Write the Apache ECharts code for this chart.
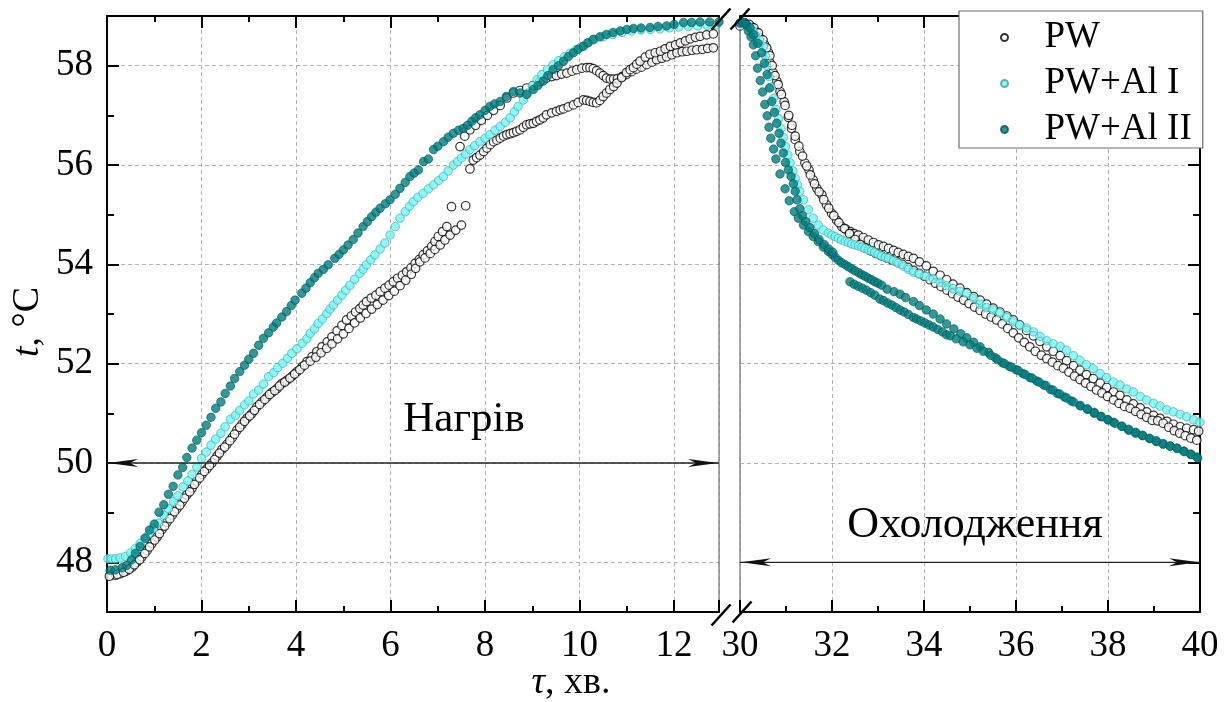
<!DOCTYPE html>
<html><head><meta charset="utf-8">
<script src="https://cdn.jsdelivr.net/npm/echarts@6/dist/echarts.min.js"></script>
<style>html,body{margin:0;padding:0;background:#fff}#c{width:1226px;height:702px}</style>
</head><body><div id="c"></div>
<script>
// ---------- tick labels ----------
const xHeatTicks = [0, 2, 4, 6, 8, 10, 12];
const xCoolTicks = [30, 32, 34, 36, 38, 40];
const yTicks = [48, 50, 52, 54, 56, 58];
const seriesNames = ['PW', 'PW+Al I', 'PW+Al II'];
const heatLabel = 'Нагрів';
const coolLabel = 'Охолодження';

// ---------- PW (two runs) : heating ----------
const pwHeatA = [[0.1,47.75],[0.18,47.74],[0.28,47.77],[0.4,47.82],[0.53,47.9],[0.63,48.0],[0.74,48.11],[0.85,48.24],[0.95,48.38],[1.06,48.51],[1.16,48.66],[1.27,48.81],[1.38,48.95],[1.48,49.08],[1.59,49.22],[1.69,49.36],[1.8,49.49],[1.9,49.64],[2.01,49.77],[2.12,49.89],[2.22,50.0],[2.33,50.14],[2.43,50.27],[2.54,50.38],[2.65,50.51],[2.75,50.66],[2.86,50.78],[2.96,50.9],[3.07,51.0],[3.17,51.13],[3.28,51.23],[3.39,51.33],[3.49,51.42],[3.6,51.5],[3.7,51.6],[3.81,51.67],[3.92,51.75],[4.02,51.84],[4.13,51.94],[4.23,52.04],[4.34,52.14],[4.44,52.24],[4.55,52.34],[4.66,52.44],[4.76,52.54],[4.87,52.66],[4.97,52.77],[5.07,52.88],[5.17,52.96],[5.26,53.04],[5.35,53.11],[5.42,53.18],[5.49,53.25],[5.59,53.32],[5.69,53.38],[5.78,53.45],[5.88,53.52],[5.97,53.58],[6.06,53.65],[6.15,53.72],[6.25,53.78],[6.34,53.85],[6.43,53.93],[6.52,54.02],[6.61,54.1],[6.69,54.19],[6.78,54.27],[6.87,54.36],[6.94,54.46],[7.01,54.56],[7.1,54.66],[7.19,54.76],[7.29,55.16],[7.47,56.37],[7.57,56.58],[7.68,56.71],[7.8,56.8],[7.92,56.9],[8.05,57.0],[8.18,57.1],[8.32,57.2],[8.46,57.35],[8.6,57.45],[8.74,57.5],[8.88,57.55],[9.02,57.6],[9.16,57.68],[9.3,57.75],[9.41,57.78],[9.51,57.8],[9.62,57.83],[9.73,57.85],[9.84,57.89],[9.94,57.92],[10.05,57.95],[10.15,57.96],[10.22,57.96],[10.29,57.94],[10.36,57.9],[10.43,57.85],[10.5,57.8],[10.57,57.75],[10.65,57.73],[10.72,57.73],[10.8,57.74],[10.9,57.78],[10.99,57.82],[11.1,57.88],[11.2,57.93],[11.31,57.97],[11.42,58.02],[11.53,58.07],[11.63,58.12],[11.74,58.15],[11.84,58.18],[11.95,58.22],[12.06,58.26],[12.17,58.28],[12.27,58.29],[12.38,58.31],[12.48,58.32],[12.6,58.33],[12.71,58.35],[12.83,58.36]];
const pwHeatB = [[0.05,47.72],[0.22,47.76],[0.35,47.8],[0.47,47.86],[0.58,47.95],[0.69,48.05],[0.8,48.18],[0.9,48.31],[1.01,48.45],[1.11,48.58],[1.22,48.73],[1.33,48.88],[1.43,49.02],[1.54,49.15],[1.64,49.29],[1.75,49.42],[1.85,49.57],[1.96,49.7],[2.06,49.83],[2.17,49.95],[2.28,50.07],[2.38,50.2],[2.49,50.32],[2.6,50.45],[2.7,50.58],[2.81,50.72],[2.91,50.84],[3.02,50.95],[3.12,51.06],[3.23,51.18],[3.34,51.28],[3.44,51.38],[3.55,51.46],[3.65,51.55],[3.76,51.63],[3.87,51.71],[3.97,51.79],[4.08,51.88],[4.18,51.97],[4.3,52.05],[4.42,52.13],[4.53,52.22],[4.65,52.31],[4.76,52.4],[4.88,52.5],[5.0,52.6],[5.12,52.71],[5.24,52.82],[5.36,52.92],[5.48,53.01],[5.6,53.1],[5.72,53.19],[5.84,53.28],[5.96,53.37],[6.08,53.46],[6.2,53.57],[6.32,53.68],[6.44,53.8],[6.53,53.92],[6.62,54.05],[6.73,54.13],[6.84,54.22],[6.94,54.3],[7.05,54.39],[7.15,54.49],[7.26,54.59],[7.38,54.69],[7.5,54.79],[7.59,55.18],[7.68,55.92],[7.75,56.1],[7.82,56.15],[7.89,56.2],[7.97,56.27],[8.04,56.34],[8.11,56.41],[8.18,56.47],[8.25,56.5],[8.32,56.54],[8.39,56.58],[8.46,56.61],[8.53,56.63],[8.6,56.65],[8.67,56.68],[8.74,56.71],[8.81,56.76],[8.88,56.81],[8.95,56.83],[9.02,56.84],[9.09,56.88],[9.16,56.91],[9.23,56.95],[9.3,57.01],[9.41,57.05],[9.51,57.08],[9.59,57.11],[9.66,57.13],[9.76,57.17],[9.87,57.21],[9.97,57.26],[10.08,57.31],[10.15,57.3],[10.22,57.28],[10.29,57.26],[10.36,57.25],[10.43,57.3],[10.5,57.38],[10.57,57.45],[10.64,57.52],[10.72,57.58],[10.79,57.65],[10.89,57.76],[10.99,57.86],[11.07,57.92],[11.14,57.96],[11.21,58.03],[11.28,58.09],[11.39,58.17],[11.49,58.23],[11.6,58.26],[11.71,58.29],[11.81,58.34],[11.92,58.39],[12.03,58.42],[12.13,58.46],[12.24,58.5],[12.34,58.54],[12.45,58.57],[12.55,58.59],[12.69,58.62],[12.83,58.64]];

// ---------- PW+Al I : heating ----------
const al1Heat = [[0.02,48.07],[0.1,48.07],[0.18,48.07],[0.28,48.09],[0.39,48.12],[0.5,48.19],[0.6,48.28],[0.7,48.38],[0.8,48.48],[0.89,48.58],[0.98,48.68],[1.09,48.79],[1.2,48.95],[1.3,49.08],[1.41,49.22],[1.5,49.34],[1.61,49.52],[1.71,49.64],[1.8,49.77],[1.9,49.92],[2.0,50.09],[2.1,50.22],[2.2,50.36],[2.3,50.48],[2.41,50.6],[2.5,50.73],[2.61,50.88],[2.72,50.96],[2.81,51.06],[2.91,51.17],[3.0,51.25],[3.1,51.39],[3.21,51.47],[3.31,51.59],[3.42,51.74],[3.53,51.82],[3.61,51.92],[3.72,52.01],[3.82,52.11],[3.91,52.21],[4.02,52.3],[4.13,52.41],[4.23,52.5],[4.3,52.61],[4.39,52.7],[4.47,52.81],[4.56,52.9],[4.65,53.01],[4.72,53.1],[4.79,53.18],[4.88,53.28],[4.97,53.38],[5.05,53.48],[5.14,53.58],[5.24,53.7],[5.35,53.82],[5.42,53.9],[5.49,53.99],[5.58,54.09],[5.67,54.19],[5.78,54.31],[5.88,54.43],[5.99,54.59],[6.1,54.76],[6.2,54.93],[6.31,55.06],[6.4,55.17],[6.48,55.26],[6.58,55.35],[6.69,55.43],[6.8,55.52],[6.91,55.6],[7.02,55.69],[7.12,55.77],[7.22,55.88],[7.33,56.0],[7.42,56.07],[7.5,56.14],[7.59,56.22],[7.68,56.31],[7.78,56.39],[7.89,56.47],[8.0,56.54],[8.1,56.61],[8.21,56.7],[8.32,56.78],[8.43,56.86],[8.53,56.95],[8.62,57.07],[8.7,57.18],[8.81,57.31],[8.9,57.45],[9.0,57.6],[9.1,57.72],[9.2,57.82],[9.32,57.92],[9.44,58.02],[9.56,58.1],[9.68,58.18],[9.8,58.25],[9.92,58.32],[10.03,58.38],[10.15,58.45],[10.3,58.52],[10.5,58.58],[10.7,58.63],[10.9,58.67],[11.1,58.7],[11.3,58.72],[11.5,58.73],[11.7,58.74],[11.9,58.76],[12.1,58.78],[12.3,58.79],[12.5,58.8],[12.7,58.81],[12.9,58.82]];

// ---------- PW+Al II : heating ----------
const al2Heat = [[0.07,47.84],[0.18,47.85],[0.32,47.89],[0.42,47.94],[0.52,48.05],[0.6,48.18],[0.7,48.32],[0.81,48.49],[0.9,48.65],[1.0,48.77],[1.1,49.01],[1.2,49.16],[1.3,49.37],[1.4,49.53],[1.5,49.76],[1.6,49.91],[1.69,50.11],[1.8,50.3],[1.9,50.46],[2.0,50.61],[2.1,50.76],[2.2,50.92],[2.3,51.1],[2.41,51.23],[2.5,51.4],[2.61,51.55],[2.7,51.7],[2.81,51.84],[2.91,51.97],[3.0,52.09],[3.1,52.21],[3.21,52.37],[3.31,52.51],[3.42,52.62],[3.52,52.74],[3.59,52.82],[3.7,52.94],[3.8,53.05],[3.9,53.17],[3.98,53.28],[4.12,53.42],[4.21,53.52],[4.3,53.63],[4.39,53.73],[4.47,53.82],[4.58,53.9],[4.68,53.99],[4.82,54.12],[4.91,54.2],[5.0,54.29],[5.1,54.39],[5.21,54.5],[5.31,54.63],[5.42,54.76],[5.51,54.86],[5.6,54.96],[5.69,55.05],[5.78,55.13],[5.89,55.22],[5.99,55.3],[6.1,55.41],[6.2,55.53],[6.31,55.65],[6.41,55.77],[6.5,55.84],[6.59,55.9],[6.7,56.07],[6.8,56.12],[6.91,56.31],[7.0,56.38],[7.12,56.47],[7.22,56.56],[7.33,56.64],[7.44,56.7],[7.54,56.74],[7.63,56.8],[7.72,56.88],[7.8,56.95],[7.89,57.01],[8.0,57.1],[8.1,57.18],[8.2,57.23],[8.32,57.28],[8.45,57.38],[8.6,57.48],[8.74,57.45],[8.88,57.42],[9.02,57.52],[9.12,57.6],[9.23,57.69],[9.33,57.8],[9.44,57.92],[9.55,58.0],[9.66,58.09],[9.76,58.18],[9.87,58.26],[9.97,58.33],[10.08,58.39],[10.18,58.46],[10.29,58.53],[10.43,58.58],[10.57,58.63],[10.71,58.67],[10.86,58.7],[11.0,58.73],[11.14,58.75],[11.3,58.76],[11.49,58.77],[11.66,58.79],[11.84,58.8],[12.0,58.83],[12.2,58.87],[12.37,58.87],[12.55,58.88],[12.75,58.88],[12.95,58.88]];

// ---------- PW (two runs) : cooling ----------
const pwCoolA = [[29.96,58.76],[30.05,58.84],[30.15,58.82],[30.25,58.78],[30.35,58.68],[30.43,58.56],[30.53,58.43],[30.62,58.26],[30.65,58.06],[30.72,57.86],[30.8,57.69],[30.87,57.48],[30.96,57.27],[31.05,56.96],[31.12,56.74],[31.2,56.51],[31.3,56.27],[31.41,56.04],[31.5,55.9],[31.59,55.7],[31.67,55.53],[31.78,55.4],[31.88,55.2],[31.99,55.03],[32.1,54.89],[32.21,54.76],[32.3,54.71],[32.39,54.66],[32.48,54.62],[32.57,54.59],[32.68,54.54],[32.79,54.49],[32.9,54.44],[33.01,54.39],[33.12,54.36],[33.23,54.32],[33.34,54.28],[33.44,54.24],[33.55,54.2],[33.66,54.16],[33.77,54.12],[33.9,54.05],[34.05,53.97],[34.2,53.86],[34.35,53.78],[34.49,53.69],[34.63,53.6],[34.78,53.52],[34.93,53.43],[35.08,53.35],[35.22,53.28],[35.36,53.2],[35.5,53.12],[35.65,53.04],[35.8,52.96],[35.94,52.88],[36.08,52.78],[36.23,52.67],[36.38,52.56],[36.52,52.45],[36.67,52.34],[36.81,52.25],[36.96,52.16],[37.1,52.06],[37.25,51.96],[37.39,51.87],[37.53,51.78],[37.68,51.7],[37.83,51.61],[37.97,51.52],[38.12,51.43],[38.26,51.36],[38.41,51.27],[38.55,51.19],[38.7,51.11],[38.84,51.03],[38.99,50.96],[39.13,50.9],[39.28,50.84],[39.42,50.78],[39.57,50.73],[39.71,50.7],[39.86,50.67],[39.97,50.64]];
const pwCoolB = [[30.0,58.8],[30.1,58.86],[30.2,58.83],[30.3,58.76],[30.4,58.66],[30.5,58.52],[30.58,58.36],[30.65,58.2],[30.7,58.0],[30.76,57.8],[30.83,57.62],[30.9,57.42],[30.98,57.2],[31.06,57.0],[31.13,56.8],[31.2,56.58],[31.28,56.38],[31.36,56.18],[31.45,55.98],[31.53,55.8],[31.62,55.62],[31.72,55.46],[31.82,55.3],[31.93,55.13],[32.04,54.98],[32.15,54.84],[32.27,54.72],[32.38,54.62],[32.5,54.5],[32.61,54.4],[32.72,54.33],[32.84,54.27],[32.95,54.22],[33.07,54.17],[33.18,54.13],[33.3,54.09],[33.41,54.05],[33.53,54.0],[33.65,53.94],[33.77,53.88],[33.89,53.82],[34.01,53.76],[34.13,53.69],[34.25,53.62],[34.37,53.55],[34.5,53.48],[34.62,53.41],[34.74,53.34],[34.86,53.28],[34.98,53.21],[35.1,53.14],[35.22,53.07],[35.34,53.0],[35.46,52.94],[35.58,52.88],[35.7,52.8],[35.82,52.71],[35.94,52.62],[36.06,52.52],[36.18,52.43],[36.3,52.34],[36.42,52.25],[36.55,52.17],[36.67,52.1],[36.79,52.03],[36.91,51.96],[37.03,51.91],[37.15,51.83],[37.27,51.75],[37.39,51.68],[37.51,51.61],[37.63,51.54],[37.75,51.47],[37.87,51.41],[37.99,51.34],[38.12,51.27],[38.24,51.2],[38.36,51.14],[38.48,51.1],[38.6,51.04],[38.72,50.98],[38.84,50.92],[38.96,50.86],[39.08,50.85],[39.2,50.8],[39.32,50.72],[39.44,50.65],[39.56,50.6],[39.68,50.55],[39.8,50.5],[39.93,50.46]];

// ---------- PW+Al I : cooling ----------
const al1Cool = [[30.0,58.85],[30.1,58.84],[30.2,58.78],[30.28,58.7],[30.33,58.62],[30.42,58.52],[30.51,58.39],[30.55,58.2],[30.58,58.0],[30.63,57.78],[30.67,57.57],[30.73,57.34],[30.78,57.12],[30.84,56.93],[30.89,56.74],[30.94,56.55],[30.99,56.37],[31.04,56.2],[31.09,56.04],[31.15,55.88],[31.2,55.73],[31.25,55.6],[31.3,55.47],[31.38,55.3],[31.49,55.1],[31.59,54.93],[31.7,54.79],[31.81,54.69],[31.92,54.63],[32.0,54.59],[32.07,54.56],[32.14,54.52],[32.21,54.49],[32.29,54.46],[32.36,54.44],[32.43,54.41],[32.5,54.39],[32.58,54.37],[32.65,54.35],[32.72,54.32],[32.79,54.29],[32.86,54.27],[32.93,54.24],[33.0,54.2],[33.08,54.17],[33.16,54.14],[33.23,54.12],[33.34,54.07],[33.44,54.02],[33.55,53.96],[33.66,53.9],[33.77,53.84],[33.9,53.8],[34.05,53.76],[34.2,53.71],[34.35,53.64],[34.49,53.57],[34.63,53.51],[34.78,53.46],[34.93,53.41],[35.08,53.31],[35.22,53.2],[35.36,53.13],[35.5,53.08],[35.65,53.02],[35.8,52.93],[35.94,52.84],[36.08,52.78],[36.23,52.72],[36.38,52.64],[36.52,52.55],[36.67,52.46],[36.81,52.4],[36.96,52.35],[37.1,52.27],[37.25,52.16],[37.39,52.07],[37.53,51.98],[37.68,51.9],[37.83,51.8],[37.97,51.72],[38.12,51.63],[38.26,51.57],[38.41,51.49],[38.55,51.43],[38.7,51.34],[38.84,51.27],[38.99,51.2],[39.13,51.15],[39.28,51.07],[39.42,51.03],[39.57,50.98],[39.71,50.93],[39.86,50.87],[40.0,50.82]];

// ---------- PW+Al II (two runs) : cooling ----------
const al2CoolA = [[30.0,58.86],[30.06,58.87],[30.11,58.85],[30.18,58.7],[30.24,58.58],[30.29,58.42],[30.34,58.2],[30.38,57.95],[30.44,57.7],[30.49,57.47],[30.54,57.22],[30.59,56.99],[30.63,56.76],[30.67,56.54],[30.73,56.32],[30.78,56.12],[30.87,55.82],[30.98,55.52],[31.07,55.28],[31.18,55.06],[31.27,54.93],[31.38,54.79],[31.49,54.66],[31.59,54.56],[31.7,54.46],[31.81,54.35],[31.92,54.26],[32.0,54.2],[32.07,54.14],[32.14,54.08],[32.21,54.03],[32.29,53.99],[32.36,53.95],[32.43,53.91],[32.5,53.87],[32.58,53.83],[32.65,53.79],[32.72,53.76],[32.79,53.72],[32.86,53.69],[32.93,53.65],[33.0,53.62],[33.08,53.58],[33.2,53.5],[33.35,53.45],[33.48,53.4],[33.6,53.33],[33.77,53.25],[33.9,53.17],[34.05,53.08],[34.2,53.0],[34.35,52.9],[34.49,52.8],[34.65,52.7],[34.8,52.6],[34.93,52.52],[35.08,52.43],[35.22,52.34],[35.4,52.23],[35.55,52.12],[35.7,52.02],[35.85,51.95],[36.0,51.88],[36.15,51.8],[36.3,51.72],[36.45,51.65],[36.6,51.57],[36.75,51.48],[36.9,51.4],[37.05,51.33],[37.2,51.25],[37.39,51.16],[37.55,51.08],[37.7,51.0],[37.85,50.93],[38.0,50.87],[38.12,50.82],[38.3,50.74],[38.45,50.66],[38.6,50.6],[38.75,50.55],[38.91,50.49],[39.05,50.43],[39.2,50.38],[39.35,50.34],[39.5,50.3],[39.65,50.24],[39.8,50.18],[39.93,50.12]];
const al2CoolB = [[30.05,58.88],[30.14,58.83],[30.22,58.76],[30.3,58.62],[30.39,58.45],[30.47,58.26],[30.53,58.05],[30.59,57.82],[30.64,57.55],[30.69,57.28],[30.75,57.06],[30.8,56.84],[30.85,56.64],[30.89,56.44],[30.94,56.24],[30.99,56.05],[31.05,55.9],[31.11,55.77],[31.16,55.62],[31.2,55.47],[31.24,55.3],[31.3,55.12],[31.36,54.98],[31.43,54.86],[31.52,54.74],[31.62,54.62],[31.72,54.5],[31.83,54.4],[31.93,54.31],[32.02,54.24],[32.39,53.65],[32.48,53.6],[32.57,53.56],[32.66,53.52],[32.75,53.48],[32.84,53.43],[32.93,53.38],[33.04,53.3],[33.12,53.27],[33.21,53.22],[33.3,53.18],[33.39,53.13],[33.48,53.08],[33.57,53.04],[33.66,52.99],[33.77,52.93],[33.84,52.9],[33.93,52.86],[34.02,52.82],[34.11,52.78],[34.2,52.74],[34.3,52.69],[34.4,52.64],[34.49,52.58],[34.57,52.56],[34.7,52.5],[34.85,52.44],[35.0,52.38],[35.15,52.31],[35.29,52.25],[35.45,52.17],[35.6,52.08],[35.75,52.0],[35.9,51.93],[36.05,51.86],[36.2,51.78],[36.35,51.71],[36.5,51.63],[36.65,51.56],[36.8,51.47],[36.95,51.39],[37.1,51.31],[37.25,51.23],[37.4,51.15],[37.55,51.09],[37.7,51.02],[37.85,50.94],[38.0,50.87],[38.15,50.8],[38.3,50.74],[38.45,50.68],[38.6,50.62],[38.75,50.56],[38.9,50.5],[39.05,50.45],[39.2,50.39],[39.35,50.34],[39.5,50.29],[39.65,50.23],[39.8,50.17],[39.95,50.1]];

// ---------- axis ranges and annotation levels ----------
const xHeatRange = [0, 12.95];
const xCoolRange = [30, 40];
const yRange = [47, 59];
const heatArrowY = 50;
const coolArrowY = 48;

// ---------- layout / style ----------
const FONT = '"Liberation Serif", serif';
const GRID0 = { left: 107, top: 16, width: 612, height: 596 };
const GRID1 = { left: 740, top: 16, width: 460, height: 596 };
const BLACK = '#000';
const BORDER_GREY = '#8a8a8a';
const TICK_FONT = 37;

const styles = {
  'PW': { color: '#ffffff', borderColor: '#000', borderWidth: 1.2 },
  'PW+Al I': { color: '#6ff8f5', borderColor: '#4a9e9c', borderWidth: 0.8 },
  'PW+Al II': { color: '#007d7d', borderColor: '#005656', borderWidth: 0.8 }
};

function xAxisCfg(gridIndex, position, range, labels) {
  const isBottom = position === 'bottom';
  return {
    type: 'value', gridIndex, position, min: range[0], max: range[1], interval: 2,
    axisLine: { show: true, onZero: false, lineStyle: { color: BLACK, width: 2 } },
    axisTick: { show: true, inside: true, length: 12, lineStyle: { color: BLACK, width: 2 } },
    minorTick: { show: true, splitNumber: 2, length: 6, lineStyle: { color: BLACK, width: 2 } },
    axisLabel: {
      show: isBottom, color: BLACK, fontFamily: FONT, fontSize: TICK_FONT, margin: 16,
      formatter: v => (labels.indexOf(v) >= 0 ? String(v) : '')
    },
    splitLine: { show: isBottom, lineStyle: { color: '#b3b3b3', width: 1, type: [4, 3] } },
    minorSplitLine: { show: false }
  };
}
function yAxisCfg(gridIndex, position, mode) {
  const lineColor = mode === 'border' ? BORDER_GREY : BLACK;
  return {
    type: 'value', gridIndex, position, min: yRange[0], max: yRange[1], splitNumber: 6,
    axisLine: { show: true, onZero: false, lineStyle: { color: lineColor, width: mode === 'border' ? 1.5 : 2 } },
    axisTick: { show: mode !== 'border', inside: true, length: 12, lineStyle: { color: BLACK, width: 2 } },
    minorTick: { show: mode !== 'border', splitNumber: 2, length: 7, lineStyle: { color: BLACK, width: 2 } },
    axisLabel: {
      show: mode === 'main' && position === 'left', color: BLACK, fontFamily: FONT, fontSize: TICK_FONT, margin: 14,
      formatter: v => (yTicks.indexOf(v) >= 0 ? String(v) : '')
    },
    splitLine: { show: mode === 'main', lineStyle: { color: '#b3b3b3', width: 1, type: [4, 3] } }
  };
}

function sc(name, data, xi, yi) {
  return {
    type: 'scatter', name, data, xAxisIndex: xi, yAxisIndex: yi,
    symbol: 'circle', symbolSize: 8.5, itemStyle: styles[name],
    emphasis: { disabled: true }, silent: true, z: 3
  };
}

const chart = echarts.init(document.getElementById('c'), null, { renderer: 'canvas' });
const option = {
  animation: false,
  backgroundColor: '#fff',
  grid: [
    Object.assign({ containLabel: false }, GRID0),
    Object.assign({ containLabel: false }, GRID1)
  ],
  xAxis: [
    xAxisCfg(0, 'bottom', xHeatRange, xHeatTicks),
    xAxisCfg(0, 'top', xHeatRange, xHeatTicks),
    xAxisCfg(1, 'bottom', xCoolRange, xCoolTicks),
    xAxisCfg(1, 'top', xCoolRange, xCoolTicks)
  ],
  yAxis: [
    yAxisCfg(0, 'left', 'main'),
    yAxisCfg(0, 'right', 'border'),
    yAxisCfg(1, 'left', 'border'),
    yAxisCfg(1, 'right', 'main')
  ],
  legend: {
    orient: 'vertical', left: 959, top: 11,
    padding: [8, 11, 0, 41], itemGap: 9, itemWidth: 70, itemHeight: 7,
    backgroundColor: '#fff', borderColor: '#6e6e6e', borderWidth: 1.2,
    textStyle: { fontFamily: FONT, fontSize: TICK_FONT, color: BLACK },
    data: seriesNames, selectedMode: false
  },
  series: [
    sc('PW', pwHeatA, 0, 0), sc('PW', pwHeatB, 0, 0),
    sc('PW', pwCoolA, 2, 3), sc('PW', pwCoolB, 2, 3),
    sc('PW+Al I', al1Heat, 0, 0), sc('PW+Al I', al1Cool, 2, 3),
    sc('PW+Al II', al2Heat, 0, 0), sc('PW+Al II', al2CoolA, 2, 3), sc('PW+Al II', al2CoolB, 2, 3)
  ]
};
chart.setOption(option);

// ---------- annotations (positions from the axes) ----------
function px(xi, yi, pt) { return chart.convertToPixel({ xAxisIndex: xi, yAxisIndex: yi }, pt); }
function arrowHead(tipX, tipY, dir) {
  const L = 30, W = 4, N = 22;
  return {
    type: 'polygon', z: 10, silent: true,
    shape: { points: [[tipX, tipY], [tipX - dir * L, tipY - W], [tipX - dir * N, tipY], [tipX - dir * L, tipY + W]] },
    style: { fill: '#111' }
  };
}
function hLine(x1, x2, y) {
  return { type: 'line', z: 9, silent: true, shape: { x1, y1: y, x2, y2: y }, style: { stroke: '#222', lineWidth: 1.4 } };
}
function slash(cx, cy) {
  return { type: 'line', z: 12, silent: true, shape: { x1: cx - 9.5, y1: cy + 10.5, x2: cx + 9.5, y2: cy - 10.5 }, style: { stroke: BLACK, lineWidth: 2.5 } };
}

const hL = px(0, 0, [xHeatRange[0], heatArrowY]);
const hR = px(0, 0, [xHeatRange[1], heatArrowY]);
const cL = px(2, 3, [xCoolRange[0], coolArrowY]);
const cR = px(2, 3, [xCoolRange[1], coolArrowY]);
const brkL = GRID0.left + GRID0.width;
const brkR = GRID1.left;
const yBot = GRID0.top + GRID0.height;
const yTop = GRID0.top;

chart.setOption({
  graphic: [
    hLine(hL[0], hR[0], hL[1]), arrowHead(hL[0] + 1, hL[1], -1), arrowHead(hR[0] - 1, hR[1], 1),
    hLine(cL[0], cR[0], cL[1]), arrowHead(cL[0] + 1, cL[1], -1), arrowHead(cR[0] - 1, cR[1], 1),
    { type: 'text', z: 10, silent: true, x: 464, y: 420,
      style: { text: heatLabel, fontFamily: FONT, fontSize: 43, fill: BLACK, align: 'center', verticalAlign: 'middle' } },
    { type: 'text', z: 10, silent: true, x: 975, y: 525,
      style: { text: coolLabel, fontFamily: FONT, fontSize: 44, fill: BLACK, align: 'center', verticalAlign: 'middle' } },
    { type: 'text', z: 10, silent: true, x: 571, y: 683,
      style: { text: '{i|τ}, хв.', fontFamily: FONT, fontSize: 38, fill: BLACK, align: 'center', verticalAlign: 'middle',
        rich: { i: { fontFamily: FONT, fontSize: 38, fontStyle: 'italic', fill: BLACK } } } },
    { type: 'text', z: 10, silent: true, x: 28, y: 322, rotation: Math.PI / 2,
      style: { text: '{i|t}, °C', fontFamily: FONT, fontSize: 38, fill: BLACK, align: 'center', verticalAlign: 'middle',
        rich: { i: { fontFamily: FONT, fontSize: 38, fontStyle: 'italic', fill: BLACK } } } },
    { type: 'rect', z: 11, silent: true, shape: { x: brkL + 1, y: yBot - 3, width: brkR - brkL - 2, height: 6 }, style: { fill: '#fff' } },
    { type: 'rect', z: 11, silent: true, shape: { x: brkL + 1, y: yTop - 3, width: brkR - brkL - 2, height: 6 }, style: { fill: '#fff' } },
    slash(brkL + 2, yBot + 3), slash(brkR + 2, yBot + 0),
    slash(brkL + 2, yTop + 3), slash(brkR, yTop + 3)
  ]
});
</script>
</body></html>
